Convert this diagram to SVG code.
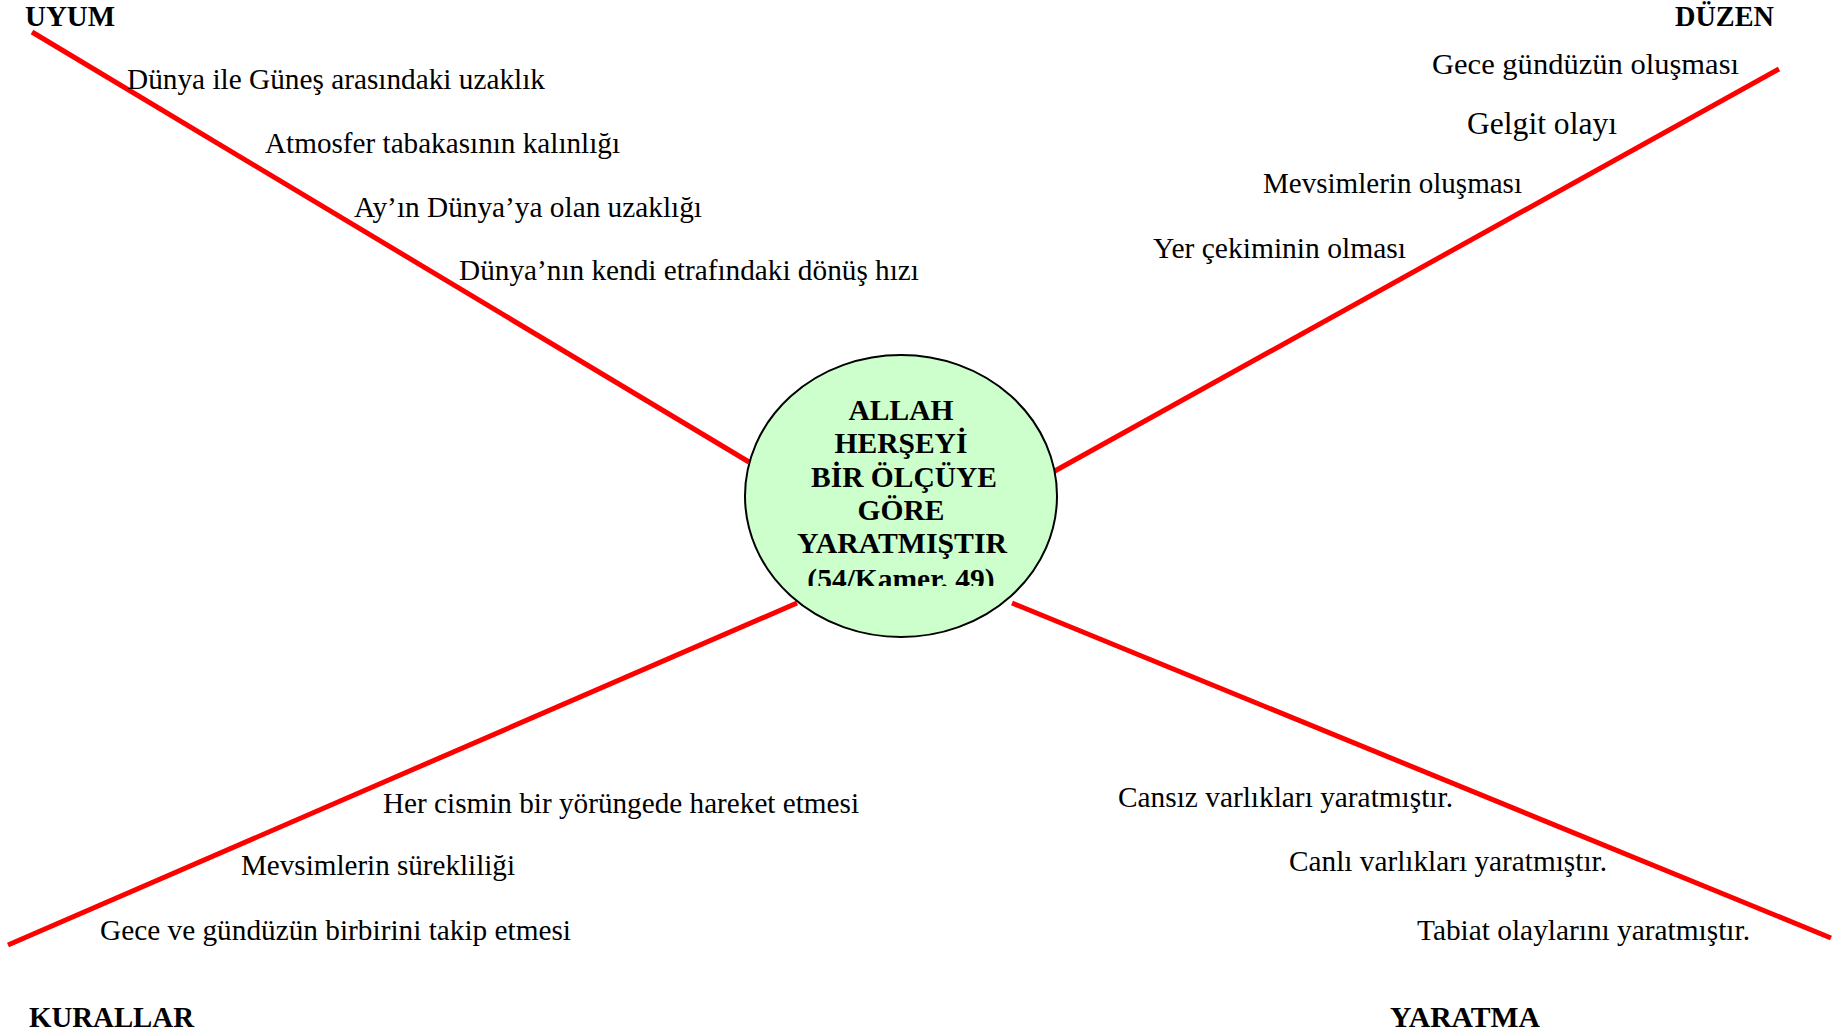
<svg xmlns="http://www.w3.org/2000/svg" width="1840" height="1036" viewBox="0 0 1840 1036">
<style>
.t{font-family:"Liberation Serif","Times New Roman",serif;font-size:29px;fill:#000}
.b{font-family:"Liberation Serif","Times New Roman",serif;font-size:29px;font-weight:bold;fill:#000}
.c{font-family:"Liberation Serif","Times New Roman",serif;font-size:29.5px;font-weight:bold;fill:#000;text-anchor:middle}
.ln{stroke:#ff0000;stroke-width:5;fill:none}
</style>
<defs>
<clipPath id="clipC"><rect x="700" y="340" width="400" height="246"/></clipPath>
</defs>
<rect width="1840" height="1036" fill="#ffffff"/>
<g id="connectors">
<line class="ln" x1="32" y1="32" x2="749" y2="462"/>
<line class="ln" x1="1779" y1="69" x2="1053" y2="472"/>
<line class="ln" x1="8" y1="945" x2="797" y2="603"/>
<line class="ln" x1="1012" y1="603" x2="1831" y2="938"/>
</g>
<g id="center">
<ellipse cx="901" cy="496" rx="156" ry="141" fill="#ccffcc" stroke="#000" stroke-width="2"/>
<g clip-path="url(#clipC)">
<text class="c" x="901" y="420">ALLAH</text>
<text class="c" x="901" y="453">HERŞEYİ</text>
<text class="c" x="904" y="487">BİR ÖLÇÜYE</text>
<text class="c" x="901" y="520">GÖRE</text>
<text class="c" x="902" y="553" textLength="210" lengthAdjust="spacingAndGlyphs">YARATMIŞTIR</text>
<text class="c" x="901" y="589">(54/Kamer. 49)</text>
</g>
</g>
<g id="uyum">
<text class="b" x="25" y="26" textLength="90" lengthAdjust="spacingAndGlyphs">UYUM</text>
<text class="t" x="127" y="89" textLength="418" lengthAdjust="spacingAndGlyphs">Dünya ile Güneş arasındaki uzaklık</text>
<text class="t" x="265" y="153" textLength="355" lengthAdjust="spacingAndGlyphs">Atmosfer tabakasının kalınlığı</text>
<text class="t" x="354" y="217" textLength="348" lengthAdjust="spacingAndGlyphs">Ay’ın Dünya’ya olan uzaklığı</text>
<text class="t" x="459" y="280" textLength="460" lengthAdjust="spacingAndGlyphs">Dünya’nın kendi etrafındaki dönüş hızı</text>
</g>
<g id="duzen">
<text class="b" x="1675" y="26" textLength="99" lengthAdjust="spacingAndGlyphs">DÜZEN</text>
<text class="t" x="1432" y="74" textLength="307" lengthAdjust="spacingAndGlyphs">Gece gündüzün oluşması</text>
<text class="t" x="1467" y="134" style="font-size:31px" textLength="150" lengthAdjust="spacingAndGlyphs">Gelgit olayı</text>
<text class="t" x="1263" y="193" textLength="259" lengthAdjust="spacingAndGlyphs">Mevsimlerin oluşması</text>
<text class="t" x="1153" y="258" textLength="253" lengthAdjust="spacingAndGlyphs">Yer çekiminin olması</text>
</g>
<g id="kurallar">
<text class="t" x="383" y="813" textLength="476" lengthAdjust="spacingAndGlyphs">Her cismin bir yörüngede hareket etmesi</text>
<text class="t" x="241" y="875" textLength="274" lengthAdjust="spacingAndGlyphs">Mevsimlerin sürekliliği</text>
<text class="t" x="100" y="940" textLength="471" lengthAdjust="spacingAndGlyphs">Gece ve gündüzün birbirini takip etmesi</text>
<text class="b" x="29" y="1027" textLength="165" lengthAdjust="spacingAndGlyphs">KURALLAR</text>
</g>
<g id="yaratma">
<text class="t" x="1118" y="807" textLength="335" lengthAdjust="spacingAndGlyphs">Cansız varlıkları yaratmıştır.</text>
<text class="t" x="1289" y="871" textLength="318" lengthAdjust="spacingAndGlyphs">Canlı varlıkları yaratmıştır.</text>
<text class="t" x="1417" y="940" textLength="333" lengthAdjust="spacingAndGlyphs">Tabiat olaylarını yaratmıştır.</text>
<text class="b" x="1390" y="1027" textLength="150" lengthAdjust="spacingAndGlyphs">YARATMA</text>
</g>
</svg>
